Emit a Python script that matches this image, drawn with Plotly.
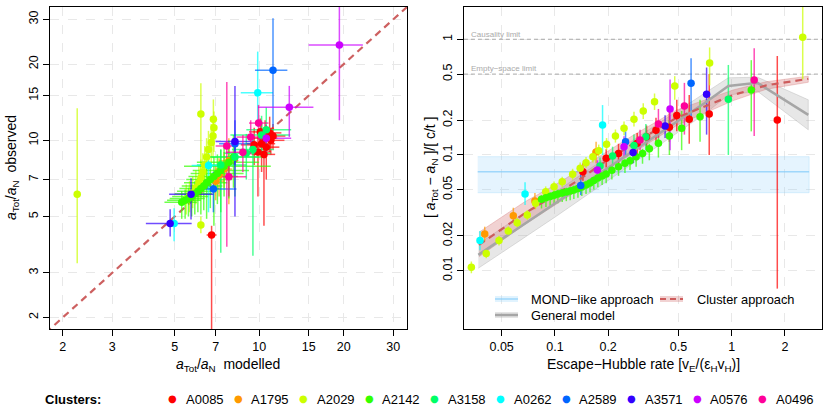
import plotly.graph_objects as go

W, H = 830, 419
FONT = "Liberation Sans, Arial, Helvetica, sans-serif"

clusters = ["A0085", "A1795", "A2029", "A2142", "A3158", "A0262", "A2589", "A3571", "A0576", "A0496"]
colors = ["#FF0000", "#FF9900", "#CCFF00", "#33FF00", "#00FF66", "#00FFFF", "#0066FF", "#3300FF", "#CC00FF", "#FF0099"]

# ---------------- Left panel: modelled vs observed a_Tot/a_N ----------------
left_cluster = (["A0085"] * 11 + ["A1795"] * 4 + ["A2029"] * 17 + ["A2142"] * 16 + ["A3158"] * 6
                + ["A0262"] * 3 + ["A2589"] * 3 + ["A3571"] * 3 + ["A0576"] * 3 + ["A0496"] * 5)
left_model = [6.77, 10.9, 10.5, 10.2, 10.6, 11.0, 9.9, 10.4, 11.2, 9.6, 10.1,
              7.0, 7.2, 7.5, 7.8,
              2.25, 6.20, 6.87, 6.90, 6.85, 6.75, 6.60, 6.50, 6.40, 6.30, 6.20, 6.10, 5.95, 5.80, 5.65, 5.50, 6.20,
              5.30, 5.45, 5.60, 5.75, 5.90, 6.05, 6.20, 6.35, 6.50, 6.70, 6.90, 7.10, 7.30, 7.50, 7.80, 8.10,
              7.3, 8.2, 9.0, 9.5, 10.2, 10.6,
              9.88, 6.6, 4.98,
              11.2, 8.2, 6.87,
              5.72, 4.82, 8.2,
              19.3, 12.8, 10.6,
              9.95, 9.33, 8.75, 7.67, 7.8]
left_model_lo = [6.50, 9.8, 9.5, 9.0, 9.6, 10.0, 8.8, 9.4, 10.2, 8.6, 9.2,
                 6.5, 6.7, 7.0, 7.2,
                 2.20, 6.10, 6.78, 6.80, 6.75, 6.65, 6.50, 6.40, 6.30, 6.20, 6.10, 6.00, 5.85, 5.70, 5.55, 5.40, 6.10,
                 4.60, 4.70, 4.80, 4.90, 5.00, 5.10, 5.20, 5.30, 5.40, 5.50, 5.60, 5.70, 5.80, 5.40, 6.00, 6.40,
                 6.0, 6.5, 7.5, 8.0, 7.9, 9.0,
                 8.6, 5.75, 4.85,
                 9.66, 7.2, 6.0,
                 4.78, 3.95, 7.0,
                 15.0, 9.9, 9.9,
                 9.2, 8.3, 7.6, 7.0, 6.8]
left_model_hi = [7.05, 12.0, 11.6, 11.4, 11.8, 12.3, 11.0, 11.4, 12.4, 10.7, 11.2,
                 7.5, 7.8, 8.0, 8.4,
                 2.30, 6.30, 6.96, 7.00, 6.95, 6.85, 6.70, 6.60, 6.50, 6.40, 6.30, 6.20, 6.05, 5.90, 5.75, 5.60, 6.30,
                 6.00, 6.20, 6.40, 6.60, 6.80, 7.00, 7.20, 7.40, 7.70, 8.00, 8.40, 8.80, 9.20, 11.0, 10.0, 10.4,
                 9.0, 10.0, 11.0, 11.3, 12.9, 13.0,
                 11.2, 7.67, 5.1,
                 12.6, 9.5, 8.3,
                 6.87, 5.75, 9.6,
                 23.4, 15.6, 13.0,
                 10.8, 10.3, 9.9, 8.4, 9.0]
left_obs = [4.23, 10.7, 10.2, 9.7, 9.4, 10.0, 9.0, 8.8, 10.4, 9.6, 10.8,
            6.9, 7.3, 7.7, 8.3,
            6.12, 12.7, 12.1, 11.2, 10.4, 9.80, 9.20, 8.60, 8.00, 7.50, 7.10, 6.80, 6.50, 6.20, 6.00, 5.85, 4.63,
            5.70, 5.80, 5.90, 6.00, 6.15, 6.30, 6.45, 6.60, 6.80, 7.00, 7.20, 7.40, 7.60, 7.90, 8.20, 8.60,
            8.0, 8.6, 8.9, 9.2, 10.5, 11.0,
            15.4, 7.95, 4.70,
            18.9, 9.7, 6.43,
            6.12, 4.70, 9.9,
            23.8, 13.5, 10.2,
            11.7, 10.3, 8.97, 9.5, 7.18]
left_obs_lo = [1.5, 9.0, 8.5, 7.5, 7.0, 8.8, 6.0, 4.6, 9.2, 8.0, 9.5,
               5.8, 6.0, 6.5, 5.6,
               3.27, 7.20, 9.50, 9.00, 8.50, 8.00, 7.60, 7.10, 6.70, 6.30, 6.00, 5.80, 5.60, 5.40, 5.20, 5.10, 4.30,
               4.90, 4.90, 5.00, 5.00, 5.10, 5.20, 5.10, 5.30, 4.90, 5.40, 4.60, 5.60, 5.20, 6.00, 5.90, 6.50,
               3.6, 6.0, 7.0, 3.5, 8.5, 9.0,
               11.3, 5.2, 4.0,
               11.3, 8.0, 5.2,
               4.87, 4.17, 5.0,
               12.0, 10.3, 9.0,
               10.0, 8.8, 7.5, 3.8, 6.0]
left_obs_hi = [4.6, 12.4, 12.0, 11.8, 11.5, 11.2, 11.0, 10.5, 11.6, 11.2, 12.2,
               8.0, 8.5, 9.0, 10.2,
               13.4, 16.8, 14.5, 13.0, 12.3, 11.6, 10.9, 10.2, 9.50, 8.90, 8.40, 8.00, 7.60, 7.20, 6.90, 6.70, 5.00,
               6.30, 6.40, 6.50, 6.70, 6.90, 7.10, 7.40, 7.60, 7.90, 8.20, 8.60, 8.80, 9.20, 9.60, 10.0, 10.5,
               9.2, 9.8, 10.6, 10.4, 12.5, 13.5,
               22.4, 9.4, 5.4,
               30.3, 12.0, 7.5,
               7.08, 5.35, 16.4,
               40.0, 16.4, 11.5,
               13.8, 12.0, 10.5, 17.0, 8.5]
one_to_one = [1.5, 40.0]

# ---------------- Right panel: acceleration excess vs escape-Hubble rate ----------------
right_cluster = (["A0085"] * 11 + ["A1795"] * 4 + ["A2029"] * 24 + ["A2142"] * 29 + ["A3158"] * 5
                 + ["A0262"] * 3 + ["A2589"] * 3 + ["A3571"] * 3 + ["A0576"] * 3 + ["A0496"] * 4)
right_rate = [0.144, 0.195, 0.229, 0.292, 0.330, 0.373, 0.444, 0.489, 0.575, 0.746, 1.81,
              0.0401, 0.0582, 0.0771, 0.171,
              0.0337, 0.0409, 0.0483, 0.0545, 0.0612, 0.0698, 0.0778, 0.0887, 0.0989, 0.110, 0.126, 0.139,
              0.150, 0.164, 0.177, 0.196, 0.220, 0.246, 0.280, 0.316, 0.366, 0.476, 0.750, 2.52,
              0.084, 0.089, 0.094, 0.099, 0.104, 0.110, 0.116, 0.122, 0.128, 0.135, 0.142, 0.150, 0.158, 0.166,
              0.175, 0.185, 0.195, 0.210, 0.229, 0.249, 0.266, 0.288, 0.313, 0.342, 0.385, 0.444, 0.521, 0.662, 1.29,
              0.180, 0.212, 0.280, 0.327, 0.957,
              0.0377, 0.0678, 0.186,
              0.140, 0.251, 0.589,
              0.277, 0.420, 0.721,
              0.174, 0.246, 0.448,
              0.303, 0.385, 0.540, 1.34]
right_acc = [0.0717, 0.0936, 0.103, 0.126, 0.144, 0.164, 0.174, 0.219, 0.204, 0.226, 0.201,
             0.0208, 0.0299, 0.040, 0.106,
             0.0107, 0.0141, 0.0182, 0.0220, 0.0260, 0.0303, 0.0383, 0.0482, 0.0532, 0.0588, 0.068, 0.0767,
             0.0858, 0.0967, 0.109, 0.124, 0.146, 0.170, 0.204, 0.240, 0.289, 0.395, 0.624, 1.04,
             0.0414, 0.0426, 0.0438, 0.0449, 0.0460, 0.0470, 0.0479, 0.0489, 0.0499, 0.0514, 0.0529, 0.0551,
             0.0573, 0.0603, 0.0633, 0.0659, 0.0685, 0.0738, 0.0792, 0.0848, 0.0893, 0.0967, 0.103, 0.113,
             0.126, 0.146, 0.170, 0.214, 0.365,
             0.0804, 0.098, 0.121, 0.144, 0.303,
             0.0182, 0.046, 0.182,
             0.0545, 0.130, 0.417,
             0.105, 0.178, 0.335,
             0.0742, 0.118, 0.250,
             0.135, 0.185, 0.265, 0.445]
right_acc_lo = [0.060, 0.078, 0.085, 0.100, 0.115, 0.125, 0.130, 0.160, 0.125, 0.100, 0.007,
                0.018, 0.026, 0.034, 0.085,
                0.0095, 0.0128, 0.0165, 0.0200, 0.0236, 0.0275, 0.0345, 0.0435, 0.0478, 0.053, 0.061, 0.069,
                0.077, 0.086, 0.097, 0.110, 0.128, 0.148, 0.176, 0.205, 0.245, 0.300, 0.400, 0.45,
                0.0345, 0.0355, 0.0365, 0.0374, 0.0383, 0.0392, 0.0399, 0.0407, 0.0416, 0.0428, 0.0441, 0.0459,
                0.0477, 0.0502, 0.0527, 0.0549, 0.0571, 0.0615, 0.0660, 0.0700, 0.0740, 0.0790, 0.0840, 0.0900,
                0.095, 0.100, 0.110, 0.130, 0.160,
                0.065, 0.080, 0.095, 0.110, 0.100,
                0.0150, 0.037, 0.100,
                0.045, 0.100, 0.200,
                0.085, 0.140, 0.150,
                0.062, 0.095, 0.110,
                0.110, 0.140, 0.150, 0.146]
right_acc_hi = [0.085, 0.112, 0.125, 0.155, 0.180, 0.210, 0.240, 0.300, 0.330, 0.500, 0.717,
                0.024, 0.035, 0.047, 0.130,
                0.0120, 0.0155, 0.0200, 0.0242, 0.0286, 0.0333, 0.0425, 0.0535, 0.059, 0.065, 0.076, 0.086,
                0.096, 0.109, 0.123, 0.140, 0.166, 0.195, 0.236, 0.280, 0.340, 0.480, 0.850, 2.50,
                0.0450, 0.0463, 0.0476, 0.0488, 0.0500, 0.0511, 0.0521, 0.0532, 0.0543, 0.0559, 0.0575, 0.0599,
                0.0623, 0.0656, 0.0688, 0.0716, 0.0745, 0.0802, 0.0860, 0.0920, 0.0970, 0.1050, 0.1130, 0.1250,
                0.160, 0.200, 0.240, 0.300, 0.660,
                0.095, 0.118, 0.150, 0.185, 0.600,
                0.022, 0.058, 0.270,
                0.068, 0.160, 0.685,
                0.130, 0.220, 0.570,
                0.090, 0.145, 0.450,
                0.165, 0.250, 0.420, 0.836]

# model curves
mond_x = [0.0366, 2.74]
mond_y = [0.0717, 0.0717]
mond_lo = [0.0472, 0.0472]
mond_hi = [0.0967, 0.0967]

gen_x = [0.0369, 0.06, 0.1, 0.2, 0.4, 0.7, 0.957, 1.40, 2.71]
gen_y = [0.0137, 0.0226, 0.0383, 0.078, 0.160, 0.280, 0.395, 0.420, 0.222]
gen_lo = [0.0105, 0.0172, 0.029, 0.060, 0.125, 0.225, 0.330, 0.355, 0.165]
gen_hi = [0.0170, 0.0280, 0.048, 0.097, 0.195, 0.340, 0.465, 0.470, 0.300]

clu_x = [0.0372, 0.0668, 0.1, 0.139, 0.18, 0.277, 0.488, 1.02, 1.57, 2.71]
clu_y = [0.0167, 0.031, 0.045, 0.062, 0.082, 0.125, 0.210, 0.330, 0.400, 0.455]
clu_lo = [0.0132, 0.0248, 0.037, 0.051, 0.068, 0.104, 0.180, 0.295, 0.370, 0.425]
clu_hi = [0.0215, 0.039, 0.055, 0.075, 0.098, 0.148, 0.245, 0.365, 0.430, 0.480]

limit_y = [1.0, 0.5]
limit_names = ["Causality limit", "Empty\u2212space limit"]
limit_x = [0.0306, 3.24]

left_ticks = [2, 3, 5, 7, 10, 15, 20, 30]
right_xticks = [0.05, 0.1, 0.2, 0.5, 1, 2]
right_yticks = [0.01, 0.02, 0.05, 0.1, 0.2, 0.5, 1]


def rgba(hexc, a):
    h = hexc.lstrip("#")
    return "rgba(%d,%d,%d,%.2f)" % (int(h[0:2], 16), int(h[2:4], 16), int(h[4:6], 16), a)


fig = go.Figure()

def band(xs, lo, hi, fillc, linec, lw):
    fig.add_trace(go.Scatter(x=xs + xs[::-1], y=hi + lo[::-1], fill="toself", fillcolor=fillc,
                             mode="lines", line=dict(color=linec, width=lw), hoverinfo="skip",
                             showlegend=False, xaxis="x2", yaxis="y2"))

band(mond_x, mond_lo, mond_hi, "rgba(135,206,250,0.22)", "rgba(135,206,250,0.35)", 0.8)
fig.add_trace(go.Scatter(x=mond_x, y=mond_y, mode="lines", line=dict(color="rgba(135,206,250,0.75)", width=1.5),
                         showlegend=False, xaxis="x2", yaxis="y2"))
band(gen_x, gen_lo, gen_hi, "rgba(170,170,170,0.28)", "rgba(150,150,150,0.35)", 0.8)
band(clu_x, clu_lo, clu_hi, "rgba(205,92,92,0.28)", "rgba(205,92,92,0.35)", 0.8)

for yv in limit_y:
    fig.add_trace(go.Scatter(x=limit_x, y=[yv, yv], mode="lines",
                             line=dict(color="#A8A8A8", width=1, dash="4px,3px"),
                             showlegend=False, xaxis="x2", yaxis="y2"))

fig.add_trace(go.Scatter(x=one_to_one, y=one_to_one, mode="lines",
                         line=dict(color="#CD6060", width=2.2, dash="7px,5px"),
                         showlegend=False, xaxis="x", yaxis="y"))

for c, col in zip(clusters, colors):
    idx = [i for i, k in enumerate(left_cluster) if k == c]
    fig.add_trace(go.Scatter(
        x=[left_model[i] for i in idx], y=[left_obs[i] for i in idx], mode="markers",
        marker=dict(size=1, opacity=0, color=col),
        error_x=dict(type="data", symmetric=False,
                     array=[left_model_hi[i] - left_model[i] for i in idx],
                     arrayminus=[left_model[i] - left_model_lo[i] for i in idx],
                     color=rgba(col, 0.7), thickness=1.5, width=0),
        error_y=dict(type="data", symmetric=False,
                     array=[left_obs_hi[i] - left_obs[i] for i in idx],
                     arrayminus=[left_obs[i] - left_obs_lo[i] for i in idx],
                     color=rgba(col, 0.7), thickness=1.5, width=0),
        showlegend=False, xaxis="x", yaxis="y"))
    idr = [i for i, k in enumerate(right_cluster) if k == c]
    fig.add_trace(go.Scatter(
        x=[right_rate[i] for i in idr], y=[right_acc[i] for i in idr], mode="markers",
        marker=dict(size=1, opacity=0, color=col),
        error_y=dict(type="data", symmetric=False,
                     array=[right_acc_hi[i] - right_acc[i] for i in idr],
                     arrayminus=[right_acc[i] - right_acc_lo[i] for i in idr],
                     color=rgba(col, 0.7), thickness=1.5, width=0),
        showlegend=False, xaxis="x2", yaxis="y2"))

fig.add_trace(go.Scatter(x=gen_x, y=gen_y, mode="lines", line=dict(color="#A6A6A6", width=2.5),
                         showlegend=False, xaxis="x2", yaxis="y2"))
fig.add_trace(go.Scatter(x=clu_x, y=clu_y, mode="lines", line=dict(color="#CD5C5C", width=2.2, dash="7px,5px"),
                         showlegend=False, xaxis="x2", yaxis="y2"))

for c, col in zip(clusters, colors):
    idx = [i for i, k in enumerate(left_cluster) if k == c]
    fig.add_trace(go.Scatter(x=[left_model[i] for i in idx], y=[left_obs[i] for i in idx], mode="markers",
                             marker=dict(size=7.5, color=col, line=dict(width=0)), name=c,
                             showlegend=False, xaxis="x", yaxis="y"))
    idr = [i for i, k in enumerate(right_cluster) if k == c]
    fig.add_trace(go.Scatter(x=[right_rate[i] for i in idr], y=[right_acc[i] for i in idr], mode="markers",
                             marker=dict(size=7.5, color=col, line=dict(width=0)), name=c,
                             showlegend=False, xaxis="x2", yaxis="y2"))

ax_common = dict(type="log", showline=True, linecolor="black", linewidth=1, mirror=True,
                 ticks="outside", ticklen=6, tickcolor="black", tickwidth=1,
                 showgrid=True, gridcolor="#E8E8E8", griddash="dash", gridwidth=1,
                 zeroline=False, tickfont=dict(family=FONT, size=12.5, color="black"))

Y0, Y1 = 1 - 329 / H, 1 - 7 / H
fig.update_layout(
    width=W, height=H, margin=dict(l=0, r=0, t=0, b=0),
    paper_bgcolor="white", plot_bgcolor="white", showlegend=False,
    font=dict(family=FONT, size=12.5, color="black"),
    xaxis=dict(ax_common, domain=[50 / W, 407 / W], range=[0.2553, 1.5263], anchor="y",
               tickvals=left_ticks, ticktext=[str(t) for t in left_ticks]),
    yaxis=dict(ax_common, domain=[Y0, Y1], range=[0.2553, 1.5263], anchor="x",
               tickvals=left_ticks, ticktext=[str(t) for t in left_ticks], tickangle=-90),
    xaxis2=dict(ax_common, domain=[464 / W, 822 / W], range=[-1.514, 0.5105], anchor="y2",
                tickvals=right_xticks, ticktext=[str(t) for t in right_xticks]),
    yaxis2=dict(ax_common, domain=[Y0, Y1], range=[-2.504, 0.279], anchor="x2",
                tickvals=right_yticks, ticktext=[str(t) for t in right_yticks], tickangle=-90),
)

ann = []
def A(x, y, text, **kw):
    d = dict(x=x / W, y=1 - y / H, xref="paper", yref="paper", text=text, showarrow=False,
             xanchor="center", yanchor="middle",
             font=dict(family=FONT, size=12.5, color="black"))
    d.update(kw)
    ann.append(d)

TF = dict(family=FONT, size=14, color="black")
A(228, 365, "<i>a</i><sub>Tot</sub>/<i>a</i><sub>N</sub>\u00a0 modelled", font=TF)
A(643, 365, "Escape\u2212Hubble rate [v<sub>E</sub>/(\u03b5<sub>H</sub>v<sub>H</sub>)]", font=TF)
A(12, 168, "<i>a</i><sub>Tot</sub>/<i>a</i><sub>N</sub>\u00a0 observed", textangle=-90, font=TF)
A(431, 167, "[ <i>a</i><sub>Tot</sub> \u2212 <i>a</i><sub>N</sub> ]/[ c/t ]", textangle=-90, font=TF)

A(469, 34, limit_names[0], xanchor="left", font=dict(family=FONT, size=8, color="#AAAAAA"))
A(469, 69, limit_names[1], xanchor="left", font=dict(family=FONT, size=8, color="#AAAAAA"))

shapes = []
def icon(x0, x1, yc, fillc, linec, dash=None, lw=2):
    shapes.append(dict(type="rect", xref="paper", yref="paper", x0=x0 / W, x1=x1 / W,
                       y0=1 - (yc + 3) / H, y1=1 - (yc - 3) / H, fillcolor=fillc, line=dict(width=0)))
    ln = dict(color=linec, width=lw)
    if dash:
        ln["dash"] = dash
    shapes.append(dict(type="line", xref="paper", yref="paper", x0=x0 / W, x1=x1 / W,
                       y0=1 - yc / H, y1=1 - yc / H, line=ln))

icon(495, 518, 299, "rgba(135,206,250,0.25)", "rgba(135,206,250,0.75)", lw=1.5)
icon(660, 683, 299, "rgba(205,92,92,0.28)", "#CD5C5C", dash="6px,4px", lw=2)
icon(495, 518, 315, "rgba(170,170,170,0.3)", "#A6A6A6", lw=2.5)
LF = dict(family=FONT, size=12.8, color="black")
A(529, 299, "MOND\u2212like approach", xanchor="left", font=LF)
A(695, 299, "Cluster approach", xanchor="left", font=LF)
A(529, 315, "General model", xanchor="left", font=LF)

A(43, 399, "<b>Clusters:</b>", xanchor="left", font=dict(family=FONT, size=13, color="black"))
for i, (c, col) in enumerate(zip(clusters, colors)):
    xd = 172.5 + 65.6 * i
    A(xd, 398.5, "\u25cf", font=dict(family="DejaVu Sans", size=10, color=col))
    A(xd + 11, 399, c, xanchor="left", font=dict(family=FONT, size=13, color="black"))

fig.update_layout(annotations=ann, shapes=shapes)
fig.write_html("out.html", config={"displayModeBar": False},
               post_script="document.body.style.margin='0px';")
